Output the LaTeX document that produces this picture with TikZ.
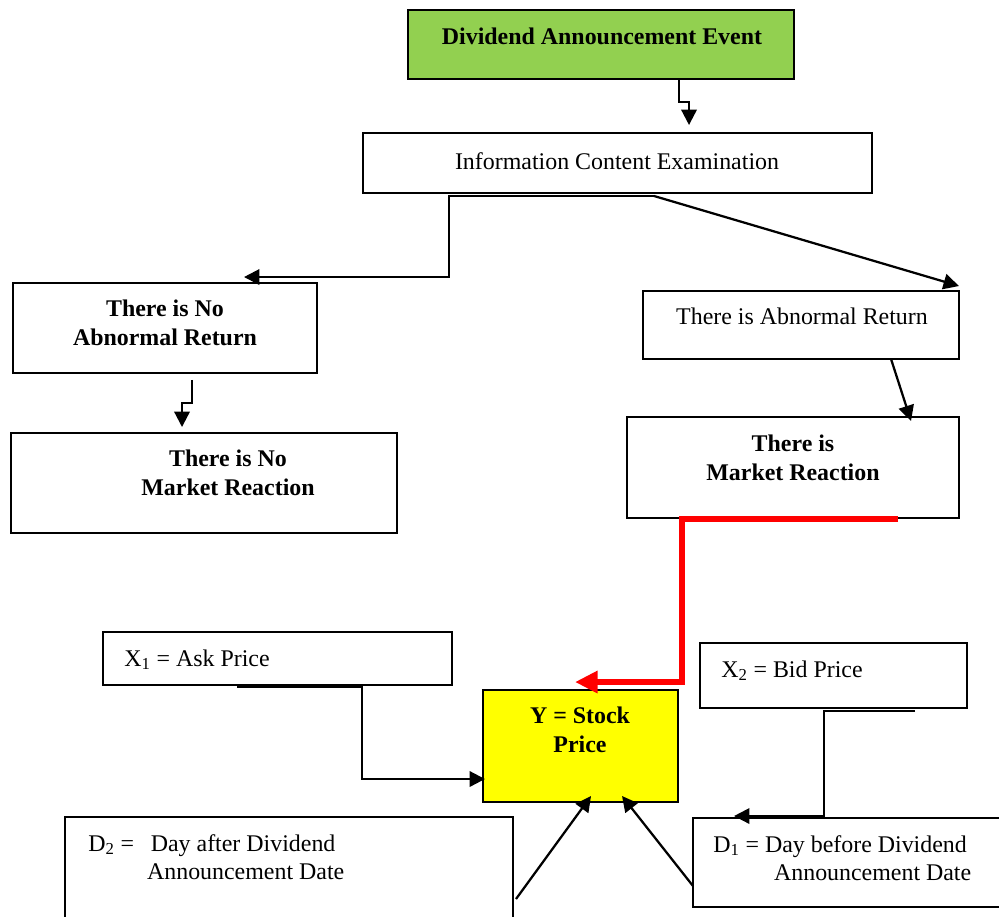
\documentclass[tikz,border=0pt]{standalone}
\usepackage{fontspec}
\setmainfont{Liberation Serif}
\usetikzlibrary{arrows.meta,calc}
\definecolor{divgreen}{RGB}{146,208,80}
\definecolor{divyellow}{RGB}{255,255,0}
\definecolor{divred}{RGB}{255,0,0}
\newcommand{\pxu}{0.025cm}

\begin{document}
\begin{tikzpicture}[
  x=0.025cm, y=-0.025cm,
  divbox/.style={draw=black,line width=1.4pt,inner sep=0pt},
  divtxt/.style={font=\fontsize{17}{20}\selectfont,inner sep=0pt,align=center},
  divarr/.style={line width=1.6pt,-{Triangle[length=11pt,width=11pt]}},
  divredarr/.style={draw=divred,line width=4.3pt,-{Triangle[length=16pt,width=15pt]}}
]
  \useasboundingbox (0,0) rectangle (999,916);
  % boxes
  \node[divbox,fill=divgreen,minimum width=386*\pxu,minimum height=69*\pxu] (event) at (601,44.5) {};
  \node[divbox,minimum width=509*\pxu,minimum height=60*\pxu] (ice) at (617.5,163) {};
  \node[divbox,minimum width=304*\pxu,minimum height=90*\pxu] (noab) at (165,328) {};
  \node[divbox,minimum width=386*\pxu,minimum height=100*\pxu] (nomr) at (204,483) {};
  \node[divbox,minimum width=316*\pxu,minimum height=68*\pxu] (abr) at (801,325) {};
  \node[divbox,minimum width=332*\pxu,minimum height=101*\pxu] (mr) at (793,467.5) {};
  \node[divbox,minimum width=349*\pxu,minimum height=53*\pxu] (ask) at (277.5,658.5) {};
  \node[divbox,fill=divyellow,minimum width=195*\pxu,minimum height=112*\pxu] (stock) at (580.5,746) {};
  \node[divbox,minimum width=267*\pxu,minimum height=65*\pxu] (bid) at (833.5,675.5) {};
  \node[divbox,minimum width=311*\pxu,minimum height=89*\pxu] (dbef) at (848.5,862.5) {};
  \node[divbox,minimum width=448*\pxu,minimum height=109*\pxu] (daft) at (289,871.5) {};

  % texts
  \node[divtxt,anchor=north] (eventtxt) at (602,28) {\bfseries Dividend Announcement Event};
  \node[divtxt,anchor=north] (icetxt) at (617,152) {Information Content Examination};
  \node[divtxt,anchor=north,font=\fontsize{17}{20}\selectfont\bfseries] (noabtxt) at (165,300) {There is No\\Abnormal Return};
  \node[divtxt,anchor=north,font=\fontsize{17}{20}\selectfont\bfseries] (nomrtxt) at (228,450) {There is No\\Market Reaction};
  \node[divtxt,anchor=north] (abrtxt) at (802,308) {There is Abnormal Return};
  \node[divtxt,anchor=north,font=\fontsize{17}{20}\selectfont\bfseries] (mrtxt) at (793,435) {There is\\Market Reaction};
  \node[divtxt,anchor=base west] (asktxt) at (124,666) {X\textsubscript{1} = Ask Price};
  \node[divtxt,anchor=north,font=\fontsize{17}{20}\selectfont\bfseries] (stocktxt) at (580,707) {Y = Stock\\Price};
  \node[divtxt,anchor=base west] (bidtxt) at (721,677) {X\textsubscript{2} = Bid Price};
  \node[divtxt,anchor=north west,align=left] (dbeftxt) at (713,835)
    {D\textsubscript{1} = Day before Dividend\\\hspace*{1.52cm}Announcement Date};
  \node[divtxt,anchor=north west,align=left] (dafttxt) at (88,834)
    {D\textsubscript{2} =\hspace*{0.42cm}Day after Dividend\\\hspace*{1.47cm}Announcement Date};

  % connectors
  \draw[divarr] ($(event.south west)+(272,0)$) -- ++(0,22) -| ($(ice.north west)+(327,-7)$);
  \draw[divarr] ($(ice.south west)+(292,2)$) -- ++(-205,0) |- ($(noab.north west)+(232,-5)$);
  \draw[divarr] ($(ice.south west)+(292,2)$) -- ($(abr.north east)+(-1,-4)$);
  \draw[divarr] ($(noab.south west)+(180,6)$) -- ++(0,23) -| ($(nomr.north west)+(172,-5)$);
  \draw[divarr] ($(abr.south west)+(249,-1)$) -- ($(mr.north west)+(285,5)$);
  \draw[divredarr] ($(mr.south west)+(272,0)$) -- ++(-216,0) |- ($(stock.north west)+(93,-7)$);
  \draw[divarr] ($(ask.south west)+(135,1)$) -- ++(125,0) |- ($(stock.west)+(3,33)$);
  \draw[divarr] ($(bid.south west)+(216,2)$) -- ++(-91,0) |- ($(dbef.north west)+(42,-1)$);
  \draw[divarr] ($(dbef.north west)+(1,69)$) -- ($(stock.south west)+(140,-7)$);
  \draw[divarr] ($(daft.north east)+(2,83)$) -- ($(stock.south west)+(109,-7)$);
\end{tikzpicture}
\end{document}
